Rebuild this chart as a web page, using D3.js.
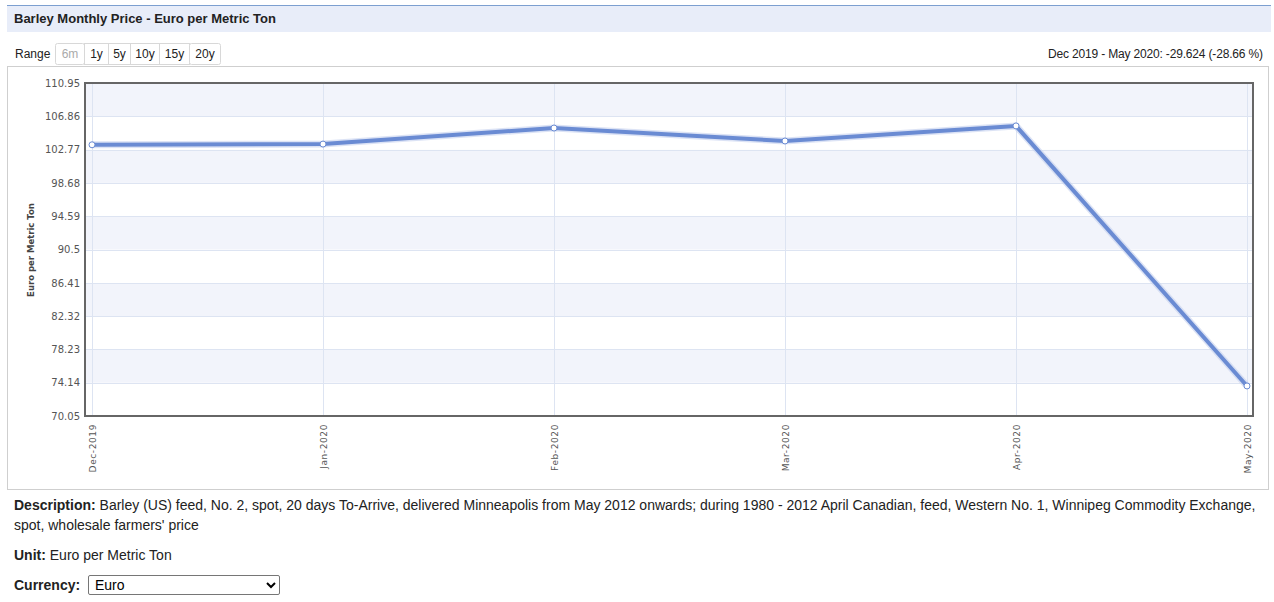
<!DOCTYPE html>
<html>
<head>
<meta charset="utf-8">
<script src="https://cdn.jsdelivr.net/npm/d3@7/dist/d3.min.js"></script>
<style>
  html, body { margin: 0; padding: 0; background: #fff; }
  body { width: 1274px; height: 602px; position: relative; overflow: hidden; font-family: "Liberation Sans", Arial, sans-serif; }
  #chart { position: absolute; left: 0; top: 0; }
  .desc { position: absolute; left: 14px; font-size: 14px; color: #222; line-height: 20px; }
  .desc b { color: #222; }
  select { position: absolute; left: 88px; top: 575px; width: 192px; height: 20px; font-family: "Liberation Sans", Arial, sans-serif; font-size: 14px; border: 1px solid #767676; border-radius: 2px; background: #fff; padding: 0 2px; }
</style>
</head>
<body>
<svg id="chart" width="1274" height="602"></svg>
<div class="desc" style="top:495px;"><b>Description:</b> Barley (US) feed, No. 2, spot, 20 days To-Arrive, delivered Minneapolis from May 2012 onwards; during 1980 - 2012 April Canadian, feed, Western No. 1, Winnipeg Commodity Exchange,<br>spot, wholesale farmers' price</div>
<div class="desc" style="top:545px;"><b>Unit:</b> Euro per Metric Ton</div>
<div class="desc" style="top:575px;"><b>Currency:</b></div>
<select><option>Euro</option></select>
<script>
const months = ["Dec-2019", "Jan-2020", "Feb-2020", "Mar-2020", "Apr-2020", "May-2020"];
const prices = [103.36, 103.45, 105.42, 103.83, 105.68, 73.74];
const yTicks = [70.05, 74.14, 78.23, 82.32, 86.41, 90.5, 94.59, 98.68, 102.77, 106.86, 110.95];
const rangeButtons = ["6m", "1y", "5y", "10y", "15y", "20y"];
const titleText = "Barley Monthly Price - Euro per Metric Ton";
const changeText = "Dec 2019 - May 2020: -29.624 (-28.66 %)";
const yTitle = "Euro per Metric Ton";

const svg = d3.select("#chart");
const plotL = 85, plotR = 1253, plotT = 83, plotB = 416;

// Title bar
svg.append("rect").attr("x", 7).attr("y", 5).attr("width", 1264).attr("height", 27).attr("fill", "#e8edf9");
svg.append("line").attr("x1", 7).attr("x2", 1271).attr("y1", 5.5).attr("y2", 5.5).attr("stroke", "#7c9fd0").attr("stroke-width", 1);
svg.append("text").attr("x", 14).attr("y", 23).attr("font-family", "Liberation Sans, Arial, sans-serif")
  .attr("font-size", 13).attr("font-weight", "bold").attr("fill", "#222").text(titleText);

// Range buttons
svg.append("text").attr("x", 15).attr("y", 58).attr("font-family", "Liberation Sans, Arial, sans-serif")
  .attr("font-size", 12).attr("fill", "#222").text("Range");
const btnW = [29, 24, 22, 29, 30, 31];
let bx = 55;
rangeButtons.forEach((b, i) => {
  const g = svg.append("g");
  g.append("rect").attr("x", bx + 0.5).attr("y", 43.5).attr("width", btnW[i]).attr("height", 21)
    .attr("fill", "#fff").attr("stroke", "#d8d8d8").attr("rx", i === 0 || i === rangeButtons.length - 1 ? 2 : 0);
  g.append("text").attr("x", bx + btnW[i] / 2 + 0.5).attr("y", 58).attr("text-anchor", "middle")
    .attr("font-family", "Liberation Sans, Arial, sans-serif").attr("font-size", 12)
    .attr("fill", i === 0 ? "#aaa" : "#222").text(b);
  bx += btnW[i];
});
svg.append("text").attr("x", 1263).attr("y", 58).attr("text-anchor", "end")
  .attr("font-family", "Liberation Sans, Arial, sans-serif").attr("font-size", 12).attr("fill", "#222")
  .attr("textLength", 215).text(changeText);

// Outer chart frame
svg.append("rect").attr("x", 7.5).attr("y", 66.5).attr("width", 1261).attr("height", 423)
  .attr("fill", "none").attr("stroke", "#cfcfcf");

// Scales
const x = d3.scalePoint().domain(months).range([plotL + 7, plotR - 6]);
const y = d3.scaleLinear().domain([yTicks[0], yTicks[yTicks.length - 1]]).range([plotB, plotT]);

// Bands
for (let i = 0; i < yTicks.length - 1; i++) {
  const top = y(yTicks[i + 1]), bot = y(yTicks[i]);
  const fromTop = yTicks.length - 2 - i;
  svg.append("rect").attr("x", plotL).attr("y", top).attr("width", plotR - plotL).attr("height", bot - top)
    .attr("fill", fromTop % 2 === 0 ? "#f2f4fb" : "#ffffff");
}

// Grid
svg.append("g").selectAll("line").data(yTicks).join("line")
  .attr("x1", plotL).attr("x2", plotR).attr("y1", d => Math.round(y(d)) + 0.5).attr("y2", d => Math.round(y(d)) + 0.5)
  .attr("stroke", "#dde4f2").attr("stroke-width", 1);
svg.append("g").selectAll("line").data(months).join("line")
  .attr("x1", d => Math.round(x(d)) + 0.5).attr("x2", d => Math.round(x(d)) + 0.5).attr("y1", plotT).attr("y2", plotB)
  .attr("stroke", "#dde4f2").attr("stroke-width", 1);

// Y axis
const yAxis = d3.axisLeft(y).tickValues(yTicks).tickSize(0).tickPadding(5).tickFormat(d => String(d));
const yg = svg.append("g").attr("transform", `translate(${plotL},0)`).call(yAxis);
yg.select(".domain").remove();
yg.selectAll("text").attr("font-family", "DejaVu Sans, Verdana, sans-serif").attr("font-size", 10).attr("fill", "#555");

// X axis
const xAxis = d3.axisBottom(x).tickSize(0).tickPadding(0);
const xg = svg.append("g").attr("transform", `translate(0,${plotB})`).call(xAxis);
xg.select(".domain").remove();
xg.selectAll("text").attr("font-family", "DejaVu Sans, Verdana, sans-serif").attr("font-size", 9).attr("fill", "#555")
  .attr("letter-spacing", "0.6px")
  .attr("text-anchor", "end").attr("dy", "0.35em").attr("transform", "translate(0,8) rotate(-90)").attr("y", 0).attr("x", 0);

// Y title
svg.append("text").attr("transform", "translate(34,250) rotate(-90)").attr("text-anchor", "middle")
  .attr("font-family", "DejaVu Sans, Verdana, sans-serif").attr("font-size", 8.5).attr("font-weight", "bold")
  .attr("fill", "#444").text(yTitle);

// Line
const data = months.map((m, i) => ({ m, v: prices[i] }));
const line = d3.line().x(d => x(d.m)).y(d => y(d.v));
svg.append("path").datum(data).attr("d", line).attr("fill", "none").attr("stroke", "#c4d0ee").attr("stroke-width", 7).attr("stroke-linejoin", "round").attr("opacity", 0.6);
svg.append("path").datum(data).attr("d", line).attr("fill", "none").attr("stroke", "#6a8bd3").attr("stroke-width", 4).attr("stroke-linejoin", "round");
svg.append("g").selectAll("circle").data(data).join("circle")
  .attr("cx", d => x(d.m)).attr("cy", d => y(d.v)).attr("r", 3)
  .attr("fill", "#fff").attr("stroke", "#6a8bd3").attr("stroke-width", 1);

// Plot frame
svg.append("rect").attr("x", plotL).attr("y", plotT).attr("width", plotR - plotL).attr("height", plotB - plotT)
  .attr("fill", "none").attr("stroke", "#666").attr("stroke-width", 2);
</script>
</body>
</html>
